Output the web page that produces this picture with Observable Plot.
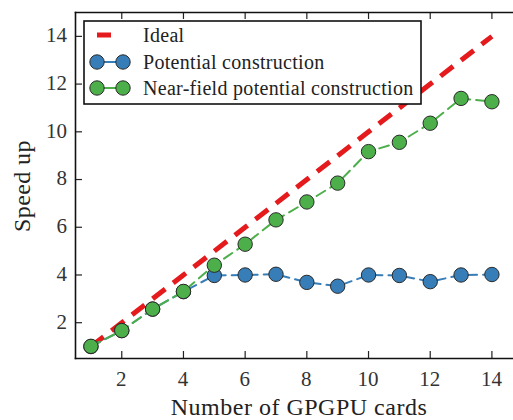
<!DOCTYPE html>
<html>
<head>
<meta charset="utf-8">
<script src="https://cdn.jsdelivr.net/npm/d3@7"></script>
<script src="https://cdn.jsdelivr.net/npm/@observablehq/plot@0.6"></script>
<style>
  html, body { margin: 0; padding: 0; background: #fff; overflow: hidden; }
  #chart { position: relative; width: 513px; height: 420px; }
  #chart svg { display: block; }
  .lbl { position: absolute; white-space: nowrap; font-family: "Liberation Serif", "Times New Roman", serif; color: #222; }
</style>
</head>
<body>
<div id="chart"></div>
<script>
// Data
const cards = [1, 2, 3, 4, 5, 6, 7, 8, 9, 10, 11, 12, 13, 14];
const ideal = [1, 2, 3, 4, 5, 6, 7, 8, 9, 10, 11, 12, 13, 14];
const potential = [1.0, 1.67, 2.57, 3.3, 3.98, 4.0, 4.03, 3.69, 3.53, 4.0, 3.98, 3.72, 4.0, 4.02];
const nearField = [1.01, 1.67, 2.57, 3.31, 4.41, 5.29, 6.31, 7.06, 7.85, 9.17, 9.56, 10.36, 11.4, 11.26];
const xTicks = [2, 4, 6, 8, 10, 12, 14];
const yTicks = [2, 4, 6, 8, 10, 12, 14];
const seriesNames = ["Ideal", "Potential construction", "Near-field potential construction"];
const xLabel = "Number of GPGPU cards";
const yLabel = "Speed up";

const RED = "#e41a1c", BLUE = "#377eb8", GREEN = "#4daf4a";

const idealData = cards.map((c, i) => ({x: c, y: ideal[i]}));
const potData = cards.map((c, i) => ({x: c, y: potential[i]}));
const nearData = cards.map((c, i) => ({x: c, y: nearField[i]}));

const W = 513, H = 420;
const mL = 75, mR = 0, mT = 12, mB = 62;
const plotH = H - mT - mB, plotW = W - mL - mR;

const plot = Plot.plot({
  width: W,
  height: H,
  marginLeft: mL,
  marginRight: mR,
  marginTop: mT,
  marginBottom: mB,
  style: {background: "white", color: "#222"},
  x: {domain: [0.5, 14.7], axis: null},
  y: {domain: [0.5, 15], axis: null},
  marks: [
    Plot.line(idealData, {x: "x", y: "y", stroke: RED, strokeWidth: 5, strokeDasharray: "16,10", strokeLinecap: "butt"}),
    Plot.line(potData, {x: "x", y: "y", stroke: BLUE, strokeWidth: 2, strokeDasharray: "10,6"}),
    Plot.dot(potData, {x: "x", y: "y", r: 7.2, fill: BLUE, stroke: "#2a2a2a", strokeWidth: 1}),
    Plot.line(nearData, {x: "x", y: "y", stroke: GREEN, strokeWidth: 2, strokeDasharray: "10,6"}),
    Plot.dot(nearData, {x: "x", y: "y", r: 7.2, fill: GREEN, stroke: "#2a2a2a", strokeWidth: 1}),
    Plot.tickX(xTicks, {x: d => d, insetTop: plotH - 7, stroke: "#222", strokeWidth: 1.2}),
    Plot.tickX(xTicks, {x: d => d, insetBottom: plotH - 7, stroke: "#222", strokeWidth: 1.2}),
    Plot.tickY(yTicks, {y: d => d, insetRight: plotW - 7, stroke: "#222", strokeWidth: 1.2}),
    Plot.frame({anchor: "left", stroke: "#111", strokeWidth: 1.6}),
    Plot.frame({anchor: "top", stroke: "#111", strokeWidth: 1.6}),
    Plot.frame({anchor: "bottom", stroke: "#111", strokeWidth: 1.6})
  ]
});

const chart = document.getElementById("chart");
chart.appendChild(plot);

const svg = d3.select(plot);
const sx = plot.scale("x"), sy = plot.scale("y");

// Legend box and swatches
const lg = svg.append("g");
lg.append("rect")
  .attr("x", 84).attr("y", 21).attr("width", 337).attr("height", 83)
  .attr("fill", "white").attr("stroke", "#111").attr("stroke-width", 1.6);

const rows = [35, 62, 88];
lg.append("line")
  .attr("x1", 97).attr("x2", 111).attr("y1", rows[0]).attr("y2", rows[0])
  .attr("stroke", RED).attr("stroke-width", 5);

[[BLUE, rows[1]], [GREEN, rows[2]]].forEach(([c, y]) => {
  lg.append("line").attr("x1", 97).attr("x2", 123).attr("y1", y).attr("y2", y)
    .attr("stroke", c).attr("stroke-width", 2);
  [97, 123].forEach(cx => {
    lg.append("circle").attr("cx", cx).attr("cy", y).attr("r", 7.2)
      .attr("fill", c).attr("stroke", "#2a2a2a").attr("stroke-width", 1);
  });
});

// HTML text labels (serif text rendered as HTML)
function label(text, x, yc, fs, align, extra = {}) {
  const d = document.createElement("div");
  d.className = "lbl";
  d.textContent = text;
  d.style.fontSize = fs + "px";
  d.style.lineHeight = fs + "px";
  d.style.left = x + "px";
  d.style.top = (yc - 0.5075 * fs) + "px";
  const tx = align === "middle" ? "translateX(-50%)" : align === "end" ? "translateX(-100%)" : "";
  d.style.transform = tx;
  Object.assign(d.style, extra);
  chart.appendChild(d);
  return d;
}

xTicks.forEach(v => label(String(v), sx.apply(v), 380, 21, "middle", {color: "#333"}));
yTicks.forEach(v => label(String(v), 67, sy.apply(v), 21, "end", {color: "#333"}));

label(xLabel, 299, 407.5, 24, "middle", {letterSpacing: "0.5px"});

const yl = label(yLabel, 22, 186, 24, "middle", {letterSpacing: "0.4px"});
yl.style.top = (186 - 12) + "px";
yl.style.transform = "translate(-50%, 0) rotate(-90deg)";
yl.style.transformOrigin = "50% 50%";

seriesNames.forEach((name, i) => label(name, 143, rows[i], 20, "start", {letterSpacing: "0.3px"}));
</script>
</body>
</html>
